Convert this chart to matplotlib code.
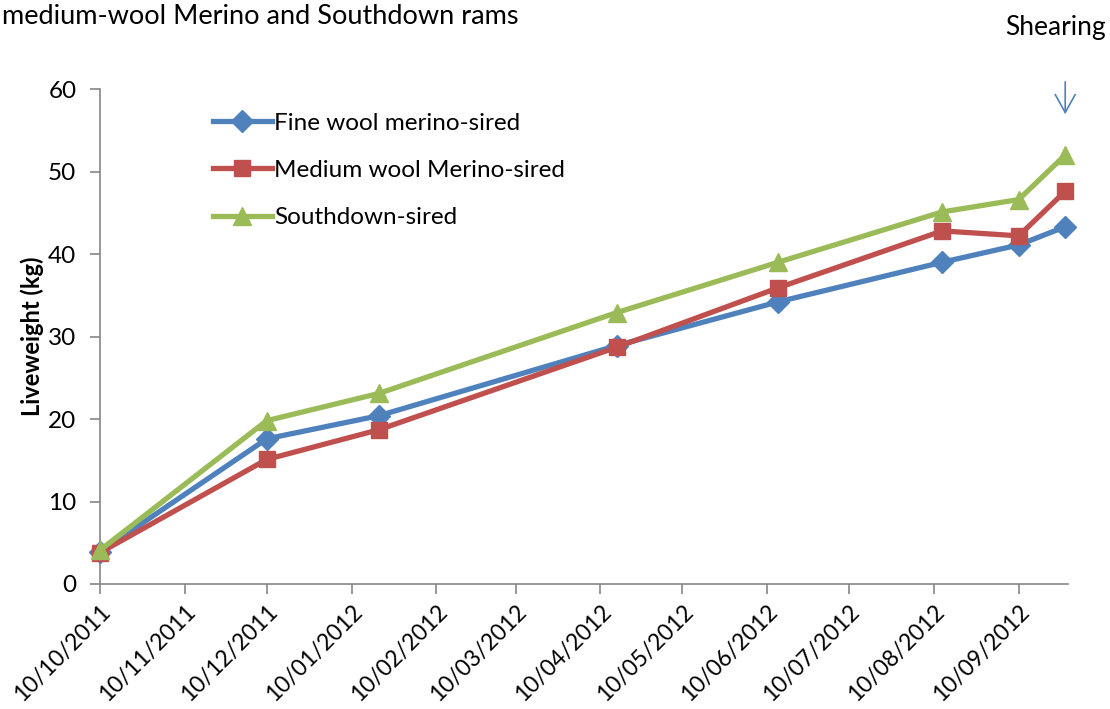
import matplotlib.pyplot as plt
import matplotlib.dates as mdates
import numpy as np
from datetime import datetime

plt.rcParams['font.family'] = ['Lato', 'DejaVu Sans']

# weighing dates and mean liveweights (kg)
dates = ['10/10/2011', '10/12/2011', '20/01/2012', '16/04/2012',
         '14/06/2012', '13/08/2012', '10/09/2012', '27/09/2012']
fine_wool = [3.9, 17.6, 20.4, 28.9, 34.2, 39.0, 41.1, 43.3]
medium_wool = [3.8, 15.1, 18.7, 28.7, 35.9, 42.8, 42.2, 47.6]
southdown = [4.1, 19.8, 23.1, 32.9, 39.0, 45.1, 46.6, 52.0]

tick_dates = ['10/10/2011', '10/11/2011', '10/12/2011', '10/01/2012',
              '10/02/2012', '10/03/2012', '10/04/2012', '10/05/2012',
              '10/06/2012', '10/07/2012', '10/08/2012', '10/09/2012']

x = [datetime.strptime(d, '%d/%m/%Y') for d in dates]
xt = [datetime.strptime(d, '%d/%m/%Y') for d in tick_dates]

fig = plt.figure(figsize=(11.1, 7.09), dpi=100)
ax = fig.add_axes([100 / 1110, 1 - 584 / 709, 968 / 1110, 495 / 709])

ax.plot(x, fine_wool, color='#4F81BD', lw=3.8, marker='D', ms=11,
        label='Fine wool merino-sired', clip_on=False, zorder=3)
ax.plot(x, medium_wool, color='#C0504D', lw=3.8, marker='s', ms=12,
        label='Medium wool Merino-sired', clip_on=False, zorder=3)
ax.plot(x, southdown, color='#9BBB59', lw=3.8, marker='^', ms=13,
        label='Southdown-sired', clip_on=False, zorder=3)

ax.set_xlim(x[0], x[-1] + (x[-1] - x[-2]) * 0.06)
ax.set_ylim(0, 60)
ax.set_yticks(np.arange(0, 61, 10))
ax.set_xticks(xt)
ax.xaxis.set_major_formatter(mdates.DateFormatter('%d/%m/%Y'))
plt.setp(ax.get_xticklabels(), rotation=45, ha='right', rotation_mode='anchor')

for s in ['top', 'right']:
    ax.spines[s].set_visible(False)
for s in ['left', 'bottom']:
    ax.spines[s].set_color('#868686')
    ax.spines[s].set_linewidth(1.2)
ax.tick_params(axis='both', length=7, width=1.2, color='#868686',
               labelsize=17.5, labelcolor='black')
ax.tick_params(axis='x', labelsize=16.5, pad=5)
ax.tick_params(axis='y', pad=10)

ax.set_ylabel('Liveweight (kg)', fontsize=17, fontweight='bold', labelpad=3)

ax.legend(loc='upper left', bbox_to_anchor=(0.107, 0.972), frameon=False,
          fontsize=17.5, handlelength=2.4, handletextpad=0.1, labelspacing=1.08,
          borderaxespad=0)

# shearing marker above the final weighing
ax.annotate('', xy=(x[-1], 56.6), xytext=(x[-1], 61.2),
            arrowprops=dict(arrowstyle='->, head_width=0.36, head_length=0.65',
                            color='#4F81BD', lw=1.2, mutation_scale=20),
            annotation_clip=False)
fig.text(1055 / 1110, 1 - 28 / 709, 'Shearing', fontsize=19,
         ha='center', va='center')

fig.text(2 / 1110, 1 - 4 / 709, 'medium-wool Merino and Southdown rams',
         fontsize=19.5, ha='left', va='top')

fig.savefig('out.png', dpi=100)
